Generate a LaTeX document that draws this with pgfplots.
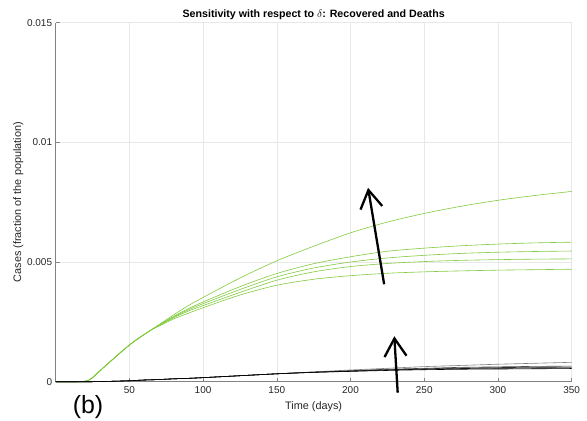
\documentclass[border=0pt]{standalone}
\usepackage{fontspec}
\setmainfont{Liberation Sans}
\usepackage{pgfplots}
\pgfplotsset{compat=1.18}
\usetikzlibrary{arrows.meta}
\definecolor{recgreen}{RGB}{130,202,62}
\definecolor{axgray}{RGB}{130,130,130}
\definecolor{txtgray}{RGB}{38,38,38}
\definecolor{gridgray}{RGB}{232,232,232}
\begin{document}
\begin{tikzpicture}
\begin{axis}[
  at={(0,0)}, anchor=south west,
  scale only axis, width=516.1bp, height=359bp,
  xmin=0, xmax=350, ymin=0, ymax=0.015,
  axis x line*=bottom, axis y line*=left,
  axis line style={axgray, line width=0.6pt, -},
  xtick={50,100,150,200,250,300,350},
  ytick={0,0.005,0.01,0.015},
  yticklabels={0,0.005,0.01,0.015},
  scaled y ticks=false,
  tick align=inside, major tick length=4bp,
  tick style={axgray, line width=0.5pt},
  grid=major, major grid style={gridgray, line width=0.5pt},
  /pgf/number format/assume math mode=true,
  tick label style={font=\fontsize{10}{12}\selectfont, text=txtgray},
  xticklabel style={yshift=-1.5bp},
  title={\bfseries Sensitivity with respect to $\delta$: Recovered and Deaths},
  title style={font=\fontsize{10.7}{12}\selectfont, yshift=-7bp},
  xlabel={Time (days)}, ylabel={Cases (fraction of the population)},
  label style={font=\fontsize{10.9}{12}\selectfont, text=txtgray},
  xlabel style={yshift=-1bp},
  ylabel style={yshift=-3bp},
  clip=false,
]
% Recovered (green)
\addplot[recgreen, line width=0.6pt, smooth] coordinates {
(0,0) (15,0) (20,0.00002) (22,0.00005) (25,0.00017) (30,0.00045) (35,0.00073) (40,0.00100) (45,0.00127) (50,0.00153) (55,0.00176) (60,0.00197) (65,0.00217)
(70,0.00238) (80,0.00279) (90,0.00318) (100,0.00352) (125,0.00433) (150,0.00505) (175,0.00566) (200,0.00622) (225,0.00667) (250,0.00703) (275,0.00733) (300,0.00758) (325,0.00778) (350,0.00795)};
\addplot[recgreen, line width=0.6pt, smooth] coordinates {
(0,0) (15,0) (20,0.00002) (22,0.00005) (25,0.00017) (30,0.00045) (35,0.00073) (40,0.00100) (45,0.00127) (50,0.00153) (55,0.00176) (60,0.00197) (65,0.00217)
(70,0.00236) (80,0.00273) (90,0.00305) (100,0.00333) (125,0.00397) (150,0.00452) (175,0.00493) (200,0.00522) (225,0.00545) (250,0.00558) (275,0.00568) (300,0.00575) (325,0.00580) (350,0.00583)};
\addplot[recgreen, line width=0.6pt, smooth] coordinates {
(0,0) (15,0) (20,0.00002) (22,0.00005) (25,0.00017) (30,0.00045) (35,0.00073) (40,0.00100) (45,0.00127) (50,0.00153) (55,0.00176) (60,0.00197) (65,0.00217)
(70,0.00235) (80,0.00270) (90,0.00300) (100,0.00326) (125,0.00385) (150,0.00438) (175,0.00475) (200,0.00500) (225,0.00517) (250,0.00528) (275,0.00536) (300,0.00541) (325,0.00544) (350,0.00546)};
\addplot[recgreen, line width=0.6pt, smooth] coordinates {
(0,0) (15,0) (20,0.00002) (22,0.00005) (25,0.00017) (30,0.00045) (35,0.00073) (40,0.00100) (45,0.00127) (50,0.00153) (55,0.00176) (60,0.00197) (65,0.00217)
(70,0.00234) (80,0.00267) (90,0.00295) (100,0.00318) (125,0.00373) (150,0.00424) (175,0.00459) (200,0.00481) (225,0.00494) (250,0.00502) (275,0.00507) (300,0.00510) (325,0.00512) (350,0.00513)};
\addplot[recgreen, line width=0.6pt, smooth] coordinates {
(0,0) (15,0) (20,0.00002) (22,0.00005) (25,0.00017) (30,0.00045) (35,0.00073) (40,0.00100) (45,0.00127) (50,0.00153) (55,0.00176) (60,0.00197) (65,0.00217)
(70,0.00232) (80,0.00262) (90,0.00286) (100,0.00309) (125,0.00362) (150,0.00403) (175,0.00428) (200,0.00443) (225,0.00453) (250,0.00459) (275,0.00463) (300,0.00466) (325,0.00468) (350,0.00470)};
% Deaths (black)
\addplot[black!50, line width=0.6pt, smooth] coordinates {
(0,0) (25,0) (30,0.000005) (40,0.00002) (50,0.00004) (60,0.00007) (70,0.00009) (80,0.00012) (90,0.00014) (100,0.00017) (125,0.00025) (150,0.00033) (175,0.00041)
(200,0.00049) (225,0.00056) (250,0.00063) (275,0.00068) (300,0.00073) (325,0.00077) (350,0.00081)};
\addplot[black!70, line width=0.6pt, smooth] coordinates {
(0,0) (25,0) (30,0.000005) (40,0.00002) (50,0.00004) (60,0.00007) (70,0.00009) (80,0.00012) (90,0.00014) (100,0.00017) (125,0.00025) (150,0.00033) (175,0.00040)
(200,0.00046) (225,0.00052) (250,0.00056) (275,0.00060) (300,0.00062) (325,0.00064) (350,0.00065)};
\addplot[black!80, line width=0.6pt, smooth] coordinates {
(0,0) (25,0) (30,0.000005) (40,0.00002) (50,0.00004) (60,0.00007) (70,0.00009) (80,0.00012) (90,0.00014) (100,0.00017) (125,0.00025) (150,0.00033) (175,0.00040)
(200,0.00045) (225,0.00050) (250,0.00054) (275,0.00057) (300,0.00059) (325,0.00060) (350,0.00061)};
\addplot[black!90, line width=0.6pt, smooth] coordinates {
(0,0) (25,0) (30,0.000005) (40,0.00002) (50,0.00004) (60,0.00007) (70,0.00009) (80,0.00012) (90,0.00014) (100,0.00017) (125,0.00025) (150,0.00033) (175,0.00039)
(200,0.00044) (225,0.00049) (250,0.00052) (275,0.00055) (300,0.00056) (325,0.00057) (350,0.00058)};
\addplot[black, line width=0.6pt, smooth] coordinates {
(0,0) (25,0) (30,0.000005) (40,0.00002) (50,0.00004) (60,0.00007) (70,0.00009) (80,0.00012) (90,0.00014) (100,0.00017) (125,0.00025) (150,0.00033) (175,0.00039)
(200,0.00043) (225,0.00047) (250,0.00050) (275,0.00052) (300,0.00053) (325,0.00054) (350,0.00055)};
% Arrows
\draw[black, line width=2.3bp, -{Straight Barb[length=18bp,width=22bp,line width=2.3bp]}] (axis cs:222.8,0.00407) -- (axis cs:211.9,0.0081);
\draw[black, line width=2.3bp, -{Straight Barb[length=18bp,width=22bp,line width=2.3bp]}] (axis cs:232,-0.00046) -- (axis cs:229.7,0.0019);
\end{axis}
\node[font=\fontsize{25}{28}\selectfont, text=black] at (32.4bp,-25.5bp) {(b)};
\pgfresetboundingbox
\path[use as bounding box] (-55.6bp,-39.3bp) rectangle (531.4bp,381.7bp);
\end{tikzpicture}
\end{document}
